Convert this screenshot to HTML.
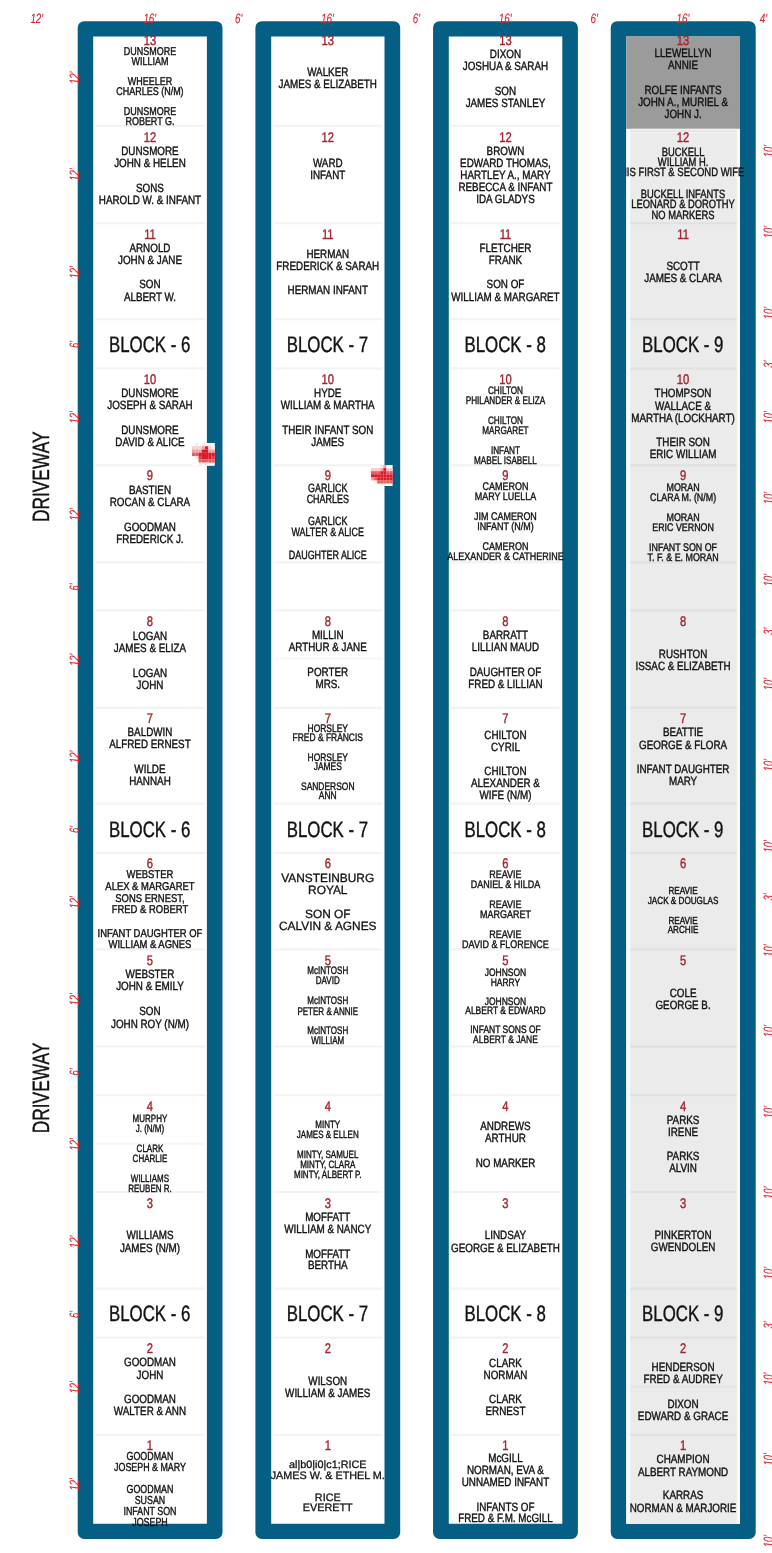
<!DOCTYPE html><html><head><meta charset="utf-8"><title>Cemetery Blocks 6-9</title><style>
html,body{margin:0;padding:0}
body{width:772px;height:1553px;position:relative;overflow:hidden;background:#fff;font-family:"Liberation Sans",sans-serif}
.o{position:absolute;background:#055e84;border-radius:9px}
.i{position:absolute;background:#fff}
.h{position:absolute;height:1px;background:#ececec}
text{font-family:"Liberation Sans",sans-serif;text-rendering:geometricPrecision;text-anchor:middle;fill:#111111;stroke:#111111;stroke-width:0.4px;white-space:pre}
text.w{stroke-width:0.3px}
text.k{fill:#a3232e;stroke:#a3232e}
text.r{fill:#d8222e;stroke:#d8222e;stroke-width:0.1px;font-style:italic}
.g{position:absolute}
</style></head><body>
<svg class="g" style="left:0;top:0" width="772" height="1553" viewBox="0 0 772 1553"><path d="M84.2,21.2 H216.0 A6.5,6.5 0 0 1 222.5,27.7 V1532.4 A6.5,6.5 0 0 1 216.0,1538.9 H84.2 A6.5,6.5 0 0 1 77.7,1532.4 V27.7 A6.5,6.5 0 0 1 84.2,21.2 Z M93.2,36.4 V1523.8 H206.9 V36.4 Z" fill="#055e84" fill-rule="evenodd"/><rect x="95.2" y="124.7" width="109.7" height="2.2" fill="#f3f3f3"/><rect x="95.2" y="222.1" width="109.7" height="2.2" fill="#f3f3f3"/><rect x="95.2" y="318.1" width="109.7" height="2.2" fill="#f3f3f3"/><rect x="95.2" y="367.3" width="109.7" height="2.2" fill="#f3f3f3"/><rect x="95.2" y="464.2" width="109.7" height="2.2" fill="#f3f3f3"/><rect x="95.2" y="561.2" width="109.7" height="2.2" fill="#f3f3f3"/><rect x="95.2" y="609.2" width="109.7" height="2.2" fill="#f3f3f3"/><rect x="95.2" y="706.7" width="109.7" height="2.2" fill="#f3f3f3"/><rect x="95.2" y="802.5" width="109.7" height="2.2" fill="#f3f3f3"/><rect x="95.2" y="851.9" width="109.7" height="2.2" fill="#f3f3f3"/><rect x="95.2" y="948.3" width="109.7" height="2.2" fill="#f3f3f3"/><rect x="95.2" y="1045.4" width="109.7" height="2.2" fill="#f3f3f3"/><rect x="95.2" y="1094.0" width="109.7" height="2.2" fill="#f3f3f3"/><rect x="95.2" y="1190.9" width="109.7" height="2.2" fill="#f3f3f3"/><rect x="95.2" y="1287.5" width="109.7" height="2.2" fill="#f3f3f3"/><rect x="95.2" y="1336.5" width="109.7" height="2.2" fill="#f3f3f3"/><rect x="95.2" y="1433.7" width="109.7" height="2.2" fill="#f3f3f3"/><path d="M261.9,21.2 H393.7 A6.5,6.5 0 0 1 400.2,27.7 V1532.4 A6.5,6.5 0 0 1 393.7,1538.9 H261.9 A6.5,6.5 0 0 1 255.4,1532.4 V27.7 A6.5,6.5 0 0 1 261.9,21.2 Z M271.2,36.4 V1523.8 H384.5 V36.4 Z" fill="#055e84" fill-rule="evenodd"/><rect x="273.2" y="124.7" width="109.3" height="2.2" fill="#f3f3f3"/><rect x="273.2" y="222.1" width="109.3" height="2.2" fill="#f3f3f3"/><rect x="273.2" y="318.1" width="109.3" height="2.2" fill="#f3f3f3"/><rect x="273.2" y="367.3" width="109.3" height="2.2" fill="#f3f3f3"/><rect x="273.2" y="464.2" width="109.3" height="2.2" fill="#f3f3f3"/><rect x="273.2" y="561.2" width="109.3" height="2.2" fill="#f3f3f3"/><rect x="273.2" y="609.2" width="109.3" height="2.2" fill="#f3f3f3"/><rect x="273.2" y="706.7" width="109.3" height="2.2" fill="#f3f3f3"/><rect x="273.2" y="802.5" width="109.3" height="2.2" fill="#f3f3f3"/><rect x="273.2" y="851.9" width="109.3" height="2.2" fill="#f3f3f3"/><rect x="273.2" y="948.3" width="109.3" height="2.2" fill="#f3f3f3"/><rect x="273.2" y="1045.4" width="109.3" height="2.2" fill="#f3f3f3"/><rect x="273.2" y="1094.0" width="109.3" height="2.2" fill="#f3f3f3"/><rect x="273.2" y="1190.9" width="109.3" height="2.2" fill="#f3f3f3"/><rect x="273.2" y="1287.5" width="109.3" height="2.2" fill="#f3f3f3"/><rect x="273.2" y="1336.5" width="109.3" height="2.2" fill="#f3f3f3"/><rect x="273.2" y="1433.7" width="109.3" height="2.2" fill="#f3f3f3"/><path d="M439.55,21.2 H571.4 A6.5,6.5 0 0 1 577.9,27.7 V1532.4 A6.5,6.5 0 0 1 571.4,1538.9 H439.55 A6.5,6.5 0 0 1 433.05,1532.4 V27.7 A6.5,6.5 0 0 1 439.55,21.2 Z M448.8,36.4 V1523.8 H562.3 V36.4 Z" fill="#055e84" fill-rule="evenodd"/><rect x="450.8" y="124.7" width="109.5" height="2.2" fill="#f3f3f3"/><rect x="450.8" y="222.1" width="109.5" height="2.2" fill="#f3f3f3"/><rect x="450.8" y="318.1" width="109.5" height="2.2" fill="#f3f3f3"/><rect x="450.8" y="367.3" width="109.5" height="2.2" fill="#f3f3f3"/><rect x="450.8" y="464.2" width="109.5" height="2.2" fill="#f3f3f3"/><rect x="450.8" y="561.2" width="109.5" height="2.2" fill="#f3f3f3"/><rect x="450.8" y="609.2" width="109.5" height="2.2" fill="#f3f3f3"/><rect x="450.8" y="706.7" width="109.5" height="2.2" fill="#f3f3f3"/><rect x="450.8" y="802.5" width="109.5" height="2.2" fill="#f3f3f3"/><rect x="450.8" y="851.9" width="109.5" height="2.2" fill="#f3f3f3"/><rect x="450.8" y="948.3" width="109.5" height="2.2" fill="#f3f3f3"/><rect x="450.8" y="1045.4" width="109.5" height="2.2" fill="#f3f3f3"/><rect x="450.8" y="1094.0" width="109.5" height="2.2" fill="#f3f3f3"/><rect x="450.8" y="1190.9" width="109.5" height="2.2" fill="#f3f3f3"/><rect x="450.8" y="1287.5" width="109.5" height="2.2" fill="#f3f3f3"/><rect x="450.8" y="1336.5" width="109.5" height="2.2" fill="#f3f3f3"/><rect x="450.8" y="1433.7" width="109.5" height="2.2" fill="#f3f3f3"/><path d="M617.25,21.2 H749.2 A6.5,6.5 0 0 1 755.7,27.7 V1532.4 A6.5,6.5 0 0 1 749.2,1538.9 H617.25 A6.5,6.5 0 0 1 610.75,1532.4 V27.7 A6.5,6.5 0 0 1 617.25,21.2 Z M626.3,36.4 V1523.8 H740.0 V36.4 Z" fill="#055e84" fill-rule="evenodd"/><rect x="626.3" y="36.4" width="113.7" height="92.5" fill="#9b9b9b"/><rect x="626.3" y="128.9" width="113.7" height="1394.9" fill="#fafafa"/><rect x="630.2" y="128.9" width="106.6" height="1394.9" fill="#ebebeb"/><rect x="630.2" y="128.9" width="106.6" height="1.6" fill="#f1f1f1"/><rect x="630.2" y="130.5" width="106.6" height="1.5" fill="#e5e5e5"/><rect x="630.2" y="132" width="106.6" height="1.5" fill="#f2f2f2"/><rect x="630.2" y="222.1" width="106.6" height="2.2" fill="#e1e1e1"/><rect x="630.2" y="318.1" width="106.6" height="2.2" fill="#e1e1e1"/><rect x="630.2" y="367.3" width="106.6" height="2.2" fill="#e1e1e1"/><rect x="630.2" y="464.2" width="106.6" height="2.2" fill="#e1e1e1"/><rect x="630.2" y="561.2" width="106.6" height="2.2" fill="#e1e1e1"/><rect x="630.2" y="609.2" width="106.6" height="2.2" fill="#e1e1e1"/><rect x="630.2" y="706.7" width="106.6" height="2.2" fill="#e1e1e1"/><rect x="630.2" y="802.5" width="106.6" height="2.2" fill="#e1e1e1"/><rect x="630.2" y="851.9" width="106.6" height="2.2" fill="#e1e1e1"/><rect x="630.2" y="948.3" width="106.6" height="2.2" fill="#e1e1e1"/><rect x="630.2" y="1045.4" width="106.6" height="2.2" fill="#e1e1e1"/><rect x="630.2" y="1094.0" width="106.6" height="2.2" fill="#e1e1e1"/><rect x="630.2" y="1190.9" width="106.6" height="2.2" fill="#e1e1e1"/><rect x="630.2" y="1287.5" width="106.6" height="2.2" fill="#e1e1e1"/><rect x="630.2" y="1336.5" width="106.6" height="2.2" fill="#e1e1e1"/><rect x="630.2" y="1433.7" width="106.6" height="2.2" fill="#e1e1e1"/><rect x="273.2" y="657.7" width="109.3" height="2" fill="#f5f5f5"/><rect x="95.2" y="1142.8" width="109.7" height="2" fill="#f5f5f5"/><rect x="630.2" y="1385.7" width="106.6" height="2" fill="#e4e4e4"/></svg>
<svg class="g" style="left:192.2px;top:443.2px" width="22.8" height="22.8" viewBox="0 0 22.8 22.8"><rect width="22.8" height="22.8" fill="#fff"/><rect x="3.26" y="0.00" width="3.31" height="3.31" fill="#fde9ea"/><rect x="9.77" y="0.00" width="3.31" height="3.31" fill="#fde9ea"/><rect x="16.29" y="0.00" width="3.31" height="3.31" fill="#fde9ea"/><rect x="0.00" y="3.26" width="3.31" height="3.31" fill="#f9cdd0"/><rect x="3.26" y="3.26" width="3.31" height="3.31" fill="#f9cdd0"/><rect x="6.51" y="3.26" width="3.31" height="3.31" fill="#f9cdd0"/><rect x="9.77" y="3.26" width="3.31" height="3.31" fill="#f2a0a6"/><rect x="13.03" y="3.26" width="3.31" height="3.31" fill="#da1a28"/><rect x="16.29" y="3.26" width="3.31" height="3.31" fill="#f9cdd0"/><rect x="19.54" y="3.26" width="3.31" height="3.31" fill="#fde9ea"/><rect x="0.00" y="6.51" width="3.31" height="3.31" fill="#f2a0a6"/><rect x="3.26" y="6.51" width="3.31" height="3.31" fill="#f2a0a6"/><rect x="6.51" y="6.51" width="3.31" height="3.31" fill="#f2a0a6"/><rect x="9.77" y="6.51" width="3.31" height="3.31" fill="#da1a28"/><rect x="13.03" y="6.51" width="3.31" height="3.31" fill="#da1a28"/><rect x="16.29" y="6.51" width="3.31" height="3.31" fill="#f2a0a6"/><rect x="19.54" y="6.51" width="3.31" height="3.31" fill="#f2a0a6"/><rect x="0.00" y="9.77" width="3.31" height="3.31" fill="#e85a64"/><rect x="3.26" y="9.77" width="3.31" height="3.31" fill="#e85a64"/><rect x="6.51" y="9.77" width="3.31" height="3.31" fill="#da1a28"/><rect x="9.77" y="9.77" width="3.31" height="3.31" fill="#da1a28"/><rect x="13.03" y="9.77" width="3.31" height="3.31" fill="#da1a28"/><rect x="16.29" y="9.77" width="3.31" height="3.31" fill="#da1a28"/><rect x="19.54" y="9.77" width="3.31" height="3.31" fill="#da1a28"/><rect x="3.26" y="13.03" width="3.31" height="3.31" fill="#fde9ea"/><rect x="6.51" y="13.03" width="3.31" height="3.31" fill="#e03a46"/><rect x="9.77" y="13.03" width="3.31" height="3.31" fill="#da1a28"/><rect x="13.03" y="13.03" width="3.31" height="3.31" fill="#da1a28"/><rect x="16.29" y="13.03" width="3.31" height="3.31" fill="#da1a28"/><rect x="19.54" y="13.03" width="3.31" height="3.31" fill="#e03a46"/><rect x="6.51" y="16.29" width="3.31" height="3.31" fill="#e85a64"/><rect x="9.77" y="16.29" width="3.31" height="3.31" fill="#e85a64"/><rect x="13.03" y="16.29" width="3.31" height="3.31" fill="#e85a64"/><rect x="16.29" y="16.29" width="3.31" height="3.31" fill="#e85a64"/><rect x="19.54" y="16.29" width="3.31" height="3.31" fill="#e85a64"/><rect x="6.51" y="19.54" width="3.31" height="3.31" fill="#fde9ea"/><rect x="13.03" y="19.54" width="3.31" height="3.31" fill="#fde9ea"/></svg>
<svg class="g" style="left:371.0px;top:464.7px" width="21.6" height="21.6" viewBox="0 0 21.6 21.6"><rect width="21.6" height="21.6" fill="#fff"/><rect x="9.26" y="0.00" width="3.14" height="3.14" fill="#fde9ea"/><rect x="12.34" y="0.00" width="3.14" height="3.14" fill="#f2a0a6"/><rect x="0.00" y="3.09" width="3.14" height="3.14" fill="#f9cdd0"/><rect x="3.09" y="3.09" width="3.14" height="3.14" fill="#f9cdd0"/><rect x="6.17" y="3.09" width="3.14" height="3.14" fill="#f9cdd0"/><rect x="9.26" y="3.09" width="3.14" height="3.14" fill="#f2a0a6"/><rect x="12.34" y="3.09" width="3.14" height="3.14" fill="#da1a28"/><rect x="15.43" y="3.09" width="3.14" height="3.14" fill="#f9cdd0"/><rect x="18.51" y="3.09" width="3.14" height="3.14" fill="#f9cdd0"/><rect x="0.00" y="6.17" width="3.14" height="3.14" fill="#e85a64"/><rect x="3.09" y="6.17" width="3.14" height="3.14" fill="#e85a64"/><rect x="6.17" y="6.17" width="3.14" height="3.14" fill="#e85a64"/><rect x="9.26" y="6.17" width="3.14" height="3.14" fill="#da1a28"/><rect x="12.34" y="6.17" width="3.14" height="3.14" fill="#da1a28"/><rect x="15.43" y="6.17" width="3.14" height="3.14" fill="#e85a64"/><rect x="18.51" y="6.17" width="3.14" height="3.14" fill="#e85a64"/><rect x="0.00" y="9.26" width="3.14" height="3.14" fill="#da1a28"/><rect x="3.09" y="9.26" width="3.14" height="3.14" fill="#da1a28"/><rect x="6.17" y="9.26" width="3.14" height="3.14" fill="#da1a28"/><rect x="9.26" y="9.26" width="3.14" height="3.14" fill="#da1a28"/><rect x="12.34" y="9.26" width="3.14" height="3.14" fill="#da1a28"/><rect x="15.43" y="9.26" width="3.14" height="3.14" fill="#da1a28"/><rect x="18.51" y="9.26" width="3.14" height="3.14" fill="#da1a28"/><rect x="0.00" y="12.34" width="3.14" height="3.14" fill="#f2a0a6"/><rect x="3.09" y="12.34" width="3.14" height="3.14" fill="#e85a64"/><rect x="6.17" y="12.34" width="3.14" height="3.14" fill="#da1a28"/><rect x="9.26" y="12.34" width="3.14" height="3.14" fill="#da1a28"/><rect x="12.34" y="12.34" width="3.14" height="3.14" fill="#da1a28"/><rect x="15.43" y="12.34" width="3.14" height="3.14" fill="#da1a28"/><rect x="18.51" y="12.34" width="3.14" height="3.14" fill="#da1a28"/><rect x="3.09" y="15.43" width="3.14" height="3.14" fill="#fde9ea"/><rect x="6.17" y="15.43" width="3.14" height="3.14" fill="#e8604e"/><rect x="9.26" y="15.43" width="3.14" height="3.14" fill="#e8604e"/><rect x="12.34" y="15.43" width="3.14" height="3.14" fill="#e8604e"/><rect x="15.43" y="15.43" width="3.14" height="3.14" fill="#e8604e"/><rect x="18.51" y="15.43" width="3.14" height="3.14" fill="#e8604e"/></svg>
<svg class="g" style="left:0;top:0;will-change:transform" width="772" height="1553" viewBox="0 0 772 1553"><text class="n" transform="translate(149.95,55.04) scale(0.794,1)" font-size="11.3">DUNSMORE</text>
<text class="n" transform="translate(149.95,65.29) scale(0.794,1)" font-size="11.3">WILLIAM</text>
<text class="n" transform="translate(149.95,84.94) scale(0.794,1)" font-size="11.3">WHEELER</text>
<text class="n" transform="translate(149.95,94.79) scale(0.794,1)" font-size="11.3">CHARLES (N/M)</text>
<text class="n" transform="translate(149.95,115.14) scale(0.794,1)" font-size="11.3">DUNSMORE</text>
<text class="n" transform="translate(149.95,124.99) scale(0.794,1)" font-size="11.3">ROBERT G.</text>
<text class="n" transform="translate(149.95,155.43) scale(0.82,1)" font-size="12">DUNSMORE</text>
<text class="n" transform="translate(149.95,167.43) scale(0.82,1)" font-size="12">JOHN &amp; HELEN</text>
<text class="n" transform="translate(149.95,191.83) scale(0.82,1)" font-size="12">SONS</text>
<text class="n" transform="translate(149.95,203.93) scale(0.82,1)" font-size="12">HAROLD W. &amp; INFANT</text>
<text class="n" transform="translate(149.95,252.03) scale(0.82,1)" font-size="12">ARNOLD</text>
<text class="n" transform="translate(149.95,264.03) scale(0.82,1)" font-size="12">JOHN &amp; JANE</text>
<text class="n" transform="translate(149.95,288.43) scale(0.82,1)" font-size="12">SON</text>
<text class="n" transform="translate(149.95,300.53) scale(0.82,1)" font-size="12">ALBERT W.</text>
<text class="n" transform="translate(149.95,397.43) scale(0.82,1)" font-size="12">DUNSMORE</text>
<text class="n" transform="translate(149.95,409.43) scale(0.82,1)" font-size="12">JOSEPH &amp; SARAH</text>
<text class="n" transform="translate(149.95,433.83) scale(0.82,1)" font-size="12">DUNSMORE</text>
<text class="n" transform="translate(149.95,445.93) scale(0.82,1)" font-size="12">DAVID &amp; ALICE</text>
<text class="n" transform="translate(149.95,494.33) scale(0.82,1)" font-size="12">BASTIEN</text>
<text class="n" transform="translate(149.95,506.33) scale(0.82,1)" font-size="12">ROCAN &amp; CLARA</text>
<text class="n" transform="translate(149.95,530.83) scale(0.82,1)" font-size="12">GOODMAN</text>
<text class="n" transform="translate(149.95,542.63) scale(0.82,1)" font-size="12">FREDERICK J.</text>
<text class="n" transform="translate(149.95,639.73) scale(0.82,1)" font-size="12">LOGAN</text>
<text class="n" transform="translate(149.95,651.83) scale(0.82,1)" font-size="12">JAMES &amp; ELIZA</text>
<text class="n" transform="translate(149.95,676.63) scale(0.82,1)" font-size="12">LOGAN</text>
<text class="n" transform="translate(149.95,688.73) scale(0.82,1)" font-size="12">JOHN</text>
<text class="n" transform="translate(149.95,736.13) scale(0.82,1)" font-size="12">BALDWIN</text>
<text class="n" transform="translate(149.95,748.13) scale(0.82,1)" font-size="12">ALFRED ERNEST</text>
<text class="n" transform="translate(149.95,773.03) scale(0.82,1)" font-size="12">WILDE</text>
<text class="n" transform="translate(149.95,784.53) scale(0.82,1)" font-size="12">HANNAH</text>
<text class="n" transform="translate(149.95,877.94) scale(0.836,1)" font-size="11.3">WEBSTER</text>
<text class="n" transform="translate(149.95,889.69) scale(0.836,1)" font-size="11.3">ALEX &amp; MARGARET</text>
<text class="n" transform="translate(149.95,901.59) scale(0.836,1)" font-size="11.3">SONS ERNEST,</text>
<text class="n" transform="translate(149.95,913.09) scale(0.836,1)" font-size="11.3">FRED &amp; ROBERT</text>
<text class="n" transform="translate(149.95,936.99) scale(0.836,1)" font-size="11.3">INFANT DAUGHTER OF</text>
<text class="n" transform="translate(149.95,948.39) scale(0.836,1)" font-size="11.3">WILLIAM &amp; AGNES</text>
<text class="n" transform="translate(149.95,978.43) scale(0.82,1)" font-size="12">WEBSTER</text>
<text class="n" transform="translate(149.95,990.23) scale(0.82,1)" font-size="12">JOHN &amp; EMILY</text>
<text class="n" transform="translate(149.95,1015.23) scale(0.82,1)" font-size="12">SON</text>
<text class="n" transform="translate(149.95,1027.73) scale(0.82,1)" font-size="12">JOHN ROY (N/M)</text>
<text class="n" transform="translate(149.95,1121.85) scale(0.755,1)" font-size="10.6">MURPHY</text>
<text class="n" transform="translate(149.95,1132.35) scale(0.755,1)" font-size="10.6">J. (N/M)</text>
<text class="n" transform="translate(149.95,1152.05) scale(0.755,1)" font-size="10.6">CLARK</text>
<text class="n" transform="translate(149.95,1162.05) scale(0.755,1)" font-size="10.6">CHARLIE</text>
<text class="n" transform="translate(149.95,1182.15) scale(0.755,1)" font-size="10.6">WILLIAMS</text>
<text class="n" transform="translate(149.95,1191.95) scale(0.755,1)" font-size="10.6">REUBEN R.</text>
<text class="n" transform="translate(149.95,1239.43) scale(0.82,1)" font-size="12">WILLIAMS</text>
<text class="n" transform="translate(149.95,1251.83) scale(0.82,1)" font-size="12">JAMES (N/M)</text>
<text class="n" transform="translate(149.95,1366.43) scale(0.82,1)" font-size="12">GOODMAN</text>
<text class="n" transform="translate(149.95,1378.63) scale(0.82,1)" font-size="12">JOHN</text>
<text class="n" transform="translate(149.95,1403.23) scale(0.82,1)" font-size="12">GOODMAN</text>
<text class="n" transform="translate(149.95,1415.23) scale(0.82,1)" font-size="12">WALTER &amp; ANN</text>
<text class="n" transform="translate(149.95,1459.82) scale(0.759,1)" font-size="11.7">GOODMAN</text>
<text class="n" transform="translate(149.95,1470.72) scale(0.759,1)" font-size="11.7">JOSEPH &amp; MARY</text>
<text class="n" transform="translate(149.95,1493.12) scale(0.759,1)" font-size="11.7">GOODMAN</text>
<text class="n" transform="translate(149.95,1504.22) scale(0.759,1)" font-size="11.7">SUSAN</text>
<text class="n" transform="translate(149.95,1515.32) scale(0.759,1)" font-size="11.7">INFANT SON</text>
<text class="n" transform="translate(149.95,1526.42) scale(0.759,1)" font-size="11.7">JOSEPH</text>
<text class="k" transform="translate(149.95,45.22) scale(0.8,1)" font-size="14">13</text>
<text class="k" transform="translate(149.95,141.92) scale(0.8,1)" font-size="14">12</text>
<text class="k" transform="translate(149.95,238.52) scale(0.8,1)" font-size="14">11</text>
<text class="k" transform="translate(149.95,383.92) scale(0.8,1)" font-size="14">10</text>
<text class="k" transform="translate(149.95,480.42) scale(0.8,1)" font-size="14">9</text>
<text class="k" transform="translate(149.95,626.12) scale(0.8,1)" font-size="14">8</text>
<text class="k" transform="translate(149.95,722.82) scale(0.8,1)" font-size="14">7</text>
<text class="k" transform="translate(149.95,868.12) scale(0.8,1)" font-size="14">6</text>
<text class="k" transform="translate(149.95,965.32) scale(0.8,1)" font-size="14">5</text>
<text class="k" transform="translate(149.95,1111.22) scale(0.8,1)" font-size="14">4</text>
<text class="k" transform="translate(149.95,1207.62) scale(0.8,1)" font-size="14">3</text>
<text class="k" transform="translate(149.95,1353.12) scale(0.8,1)" font-size="14">2</text>
<text class="k" transform="translate(149.95,1450.12) scale(0.8,1)" font-size="14">1</text>
<text class="n" transform="translate(149.65,352.07) scale(0.755,1)" font-size="22.3">BLOCK - 6</text>
<text class="n" transform="translate(149.65,836.57) scale(0.755,1)" font-size="22.3">BLOCK - 6</text>
<text class="n" transform="translate(149.65,1321.17) scale(0.755,1)" font-size="22.3">BLOCK - 6</text>
<text class="n" transform="translate(327.75,75.63) scale(0.82,1)" font-size="12">WALKER</text>
<text class="n" transform="translate(327.75,88.03) scale(0.82,1)" font-size="12">JAMES &amp; ELIZABETH</text>
<text class="n" transform="translate(327.75,166.73) scale(0.82,1)" font-size="12">WARD</text>
<text class="n" transform="translate(327.75,178.63) scale(0.82,1)" font-size="12">INFANT</text>
<text class="n" transform="translate(327.75,257.93) scale(0.82,1)" font-size="12">HERMAN</text>
<text class="n" transform="translate(327.75,269.93) scale(0.82,1)" font-size="12">FREDERICK &amp; SARAH</text>
<text class="n" transform="translate(327.75,294.13) scale(0.82,1)" font-size="12">HERMAN INFANT</text>
<text class="n" transform="translate(327.75,397.03) scale(0.82,1)" font-size="12">HYDE</text>
<text class="n" transform="translate(327.75,409.43) scale(0.82,1)" font-size="12">WILLIAM &amp; MARTHA</text>
<text class="n" transform="translate(327.75,433.83) scale(0.82,1)" font-size="12">THEIR INFANT SON</text>
<text class="n" transform="translate(327.75,445.83) scale(0.82,1)" font-size="12">JAMES</text>
<text class="n" transform="translate(327.75,491.73) scale(0.745,1)" font-size="12.0">GARLICK</text>
<text class="n" transform="translate(327.75,502.73) scale(0.745,1)" font-size="12.0">CHARLES</text>
<text class="n" transform="translate(327.75,525.23) scale(0.745,1)" font-size="12.0">GARLICK</text>
<text class="n" transform="translate(327.75,535.93) scale(0.745,1)" font-size="12.0">WALTER &amp; ALICE</text>
<text class="n" transform="translate(327.75,558.53) scale(0.745,1)" font-size="12.0">DAUGHTER ALICE</text>
<text class="n" transform="translate(327.75,639.33) scale(0.82,1)" font-size="12">MILLIN</text>
<text class="n" transform="translate(327.75,651.43) scale(0.82,1)" font-size="12">ARTHUR &amp; JANE</text>
<text class="n" transform="translate(327.75,676.23) scale(0.82,1)" font-size="12">PORTER</text>
<text class="n" transform="translate(327.75,688.03) scale(0.82,1)" font-size="12">MRS.</text>
<text class="n" transform="translate(327.75,732.05) scale(0.775,1)" font-size="10.9">HORSLEY</text>
<text class="n" transform="translate(327.75,741.35) scale(0.775,1)" font-size="10.9">FRED &amp; FRANCIS</text>
<text class="n" transform="translate(327.75,761.05) scale(0.775,1)" font-size="10.9">HORSLEY</text>
<text class="n" transform="translate(327.75,770.25) scale(0.775,1)" font-size="10.9">JAMES</text>
<text class="n" transform="translate(327.75,789.55) scale(0.775,1)" font-size="10.9">SANDERSON</text>
<text class="n" transform="translate(327.75,798.85) scale(0.775,1)" font-size="10.9">ANN</text>
<text class="n w" transform="translate(327.75,881.93) scale(0.99,1)" font-size="12.0">VANSTEINBURG</text>
<text class="n w" transform="translate(327.75,894.03) scale(0.99,1)" font-size="12.0">ROYAL</text>
<text class="n w" transform="translate(327.75,918.33) scale(0.99,1)" font-size="12.0">SON OF</text>
<text class="n w" transform="translate(327.75,930.23) scale(0.99,1)" font-size="12.0">CALVIN &amp; AGNES</text>
<text class="n" transform="translate(327.75,974.35) scale(0.738,1)" font-size="10.9">McINTOSH</text>
<text class="n" transform="translate(327.75,984.15) scale(0.738,1)" font-size="10.9">DAVID</text>
<text class="n" transform="translate(327.75,1003.95) scale(0.738,1)" font-size="10.9">McINTOSH</text>
<text class="n" transform="translate(327.75,1014.55) scale(0.738,1)" font-size="10.9">PETER &amp; ANNIE</text>
<text class="n" transform="translate(327.75,1034.25) scale(0.738,1)" font-size="10.9">McINTOSH</text>
<text class="n" transform="translate(327.75,1044.05) scale(0.738,1)" font-size="10.9">WILLIAM</text>
<text class="n" transform="translate(327.75,1127.60) scale(0.757,1)" font-size="10.6">MINTY</text>
<text class="n" transform="translate(327.75,1137.65) scale(0.757,1)" font-size="10.6">JAMES &amp; ELLEN</text>
<text class="n" transform="translate(327.75,1157.95) scale(0.757,1)" font-size="10.6">MINTY, SAMUEL</text>
<text class="n" transform="translate(327.75,1167.70) scale(0.757,1)" font-size="10.6">MINTY, CLARA</text>
<text class="n" transform="translate(327.75,1177.65) scale(0.757,1)" font-size="10.6">MINTY, ALBERT P.</text>
<text class="n" transform="translate(327.75,1221.13) scale(0.82,1)" font-size="12">MOFFATT</text>
<text class="n" transform="translate(327.75,1233.13) scale(0.82,1)" font-size="12">WILLIAM &amp; NANCY</text>
<text class="n" transform="translate(327.75,1257.63) scale(0.82,1)" font-size="12">MOFFATT</text>
<text class="n" transform="translate(327.75,1269.43) scale(0.82,1)" font-size="12">BERTHA</text>
<text class="n" transform="translate(327.75,1384.63) scale(0.82,1)" font-size="12">WILSON</text>
<text class="n" transform="translate(327.75,1397.03) scale(0.82,1)" font-size="12">WILLIAM &amp; JAMES</text>
<text class="n w" transform="translate(327.75,1467.92) scale(1.0,1)" font-size="10.8">al|b0|i0|c1;RICE</text>
<text class="n w" transform="translate(327.75,1478.82) scale(1.0,1)" font-size="10.8">JAMES W. &amp; ETHEL M.</text>
<text class="n w" transform="translate(327.75,1500.72) scale(1.0,1)" font-size="10.8">RICE</text>
<text class="n w" transform="translate(327.75,1511.42) scale(1.0,1)" font-size="10.8">EVERETT</text>
<text class="k" transform="translate(327.75,45.22) scale(0.8,1)" font-size="14">13</text>
<text class="k" transform="translate(327.75,141.92) scale(0.8,1)" font-size="14">12</text>
<text class="k" transform="translate(327.75,238.52) scale(0.8,1)" font-size="14">11</text>
<text class="k" transform="translate(327.75,383.92) scale(0.8,1)" font-size="14">10</text>
<text class="k" transform="translate(327.75,480.42) scale(0.8,1)" font-size="14">9</text>
<text class="k" transform="translate(327.75,626.12) scale(0.8,1)" font-size="14">8</text>
<text class="k" transform="translate(327.75,722.82) scale(0.8,1)" font-size="14">7</text>
<text class="k" transform="translate(327.75,868.12) scale(0.8,1)" font-size="14">6</text>
<text class="k" transform="translate(327.75,965.32) scale(0.8,1)" font-size="14">5</text>
<text class="k" transform="translate(327.75,1111.22) scale(0.8,1)" font-size="14">4</text>
<text class="k" transform="translate(327.75,1207.62) scale(0.8,1)" font-size="14">3</text>
<text class="k" transform="translate(327.75,1353.12) scale(0.8,1)" font-size="14">2</text>
<text class="k" transform="translate(327.75,1450.12) scale(0.8,1)" font-size="14">1</text>
<text class="n" transform="translate(327.45,352.07) scale(0.755,1)" font-size="22.3">BLOCK - 7</text>
<text class="n" transform="translate(327.45,836.57) scale(0.755,1)" font-size="22.3">BLOCK - 7</text>
<text class="n" transform="translate(327.45,1321.17) scale(0.755,1)" font-size="22.3">BLOCK - 7</text>
<text class="n" transform="translate(505.45,57.93) scale(0.82,1)" font-size="12">DIXON</text>
<text class="n" transform="translate(505.45,70.43) scale(0.82,1)" font-size="12">JOSHUA &amp; SARAH</text>
<text class="n" transform="translate(505.45,94.63) scale(0.82,1)" font-size="12">SON</text>
<text class="n" transform="translate(505.45,106.63) scale(0.82,1)" font-size="12">JAMES STANLEY</text>
<text class="n" transform="translate(505.45,154.93) scale(0.82,1)" font-size="12">BROWN</text>
<text class="n" transform="translate(505.45,166.83) scale(0.82,1)" font-size="12">EDWARD THOMAS,</text>
<text class="n" transform="translate(505.45,179.13) scale(0.82,1)" font-size="12">HARTLEY A., MARY</text>
<text class="n" transform="translate(505.45,191.23) scale(0.82,1)" font-size="12">REBECCA &amp; INFANT</text>
<text class="n" transform="translate(505.45,203.43) scale(0.82,1)" font-size="12">IDA GLADYS</text>
<text class="n" transform="translate(505.45,252.03) scale(0.82,1)" font-size="12">FLETCHER</text>
<text class="n" transform="translate(505.45,264.03) scale(0.82,1)" font-size="12">FRANK</text>
<text class="n" transform="translate(505.45,288.43) scale(0.82,1)" font-size="12">SON OF</text>
<text class="n" transform="translate(505.45,300.53) scale(0.82,1)" font-size="12">WILLIAM &amp; MARGARET</text>
<text class="n" transform="translate(505.45,394.05) scale(0.75,1)" font-size="10.9">CHILTON</text>
<text class="n" transform="translate(505.45,404.15) scale(0.75,1)" font-size="10.9">PHILANDER &amp; ELIZA</text>
<text class="n" transform="translate(505.45,424.05) scale(0.75,1)" font-size="10.9">CHILTON</text>
<text class="n" transform="translate(505.45,433.95) scale(0.75,1)" font-size="10.9">MARGARET</text>
<text class="n" transform="translate(505.45,454.05) scale(0.75,1)" font-size="10.9">INFANT</text>
<text class="n" transform="translate(505.45,464.05) scale(0.75,1)" font-size="10.9">MABEL ISABELL</text>
<text class="n" transform="translate(505.45,489.82) scale(0.808,1)" font-size="11.1">CAMERON</text>
<text class="n" transform="translate(505.45,499.92) scale(0.808,1)" font-size="11.1">MARY LUELLA</text>
<text class="n" transform="translate(505.45,519.92) scale(0.808,1)" font-size="11.1">JIM CAMERON</text>
<text class="n" transform="translate(505.45,530.02) scale(0.808,1)" font-size="11.1">INFANT (N/M)</text>
<text class="n" transform="translate(505.45,550.12) scale(0.808,1)" font-size="11.1">CAMERON</text>
<text class="n" transform="translate(505.45,560.02) scale(0.808,1)" font-size="11.1">ALEXANDER &amp; CATHERINE</text>
<text class="n" transform="translate(505.45,639.33) scale(0.82,1)" font-size="12">BARRATT</text>
<text class="n" transform="translate(505.45,651.43) scale(0.82,1)" font-size="12">LILLIAN MAUD</text>
<text class="n" transform="translate(505.45,676.23) scale(0.82,1)" font-size="12">DAUGHTER OF</text>
<text class="n" transform="translate(505.45,688.03) scale(0.82,1)" font-size="12">FRED &amp; LILLIAN</text>
<text class="n" transform="translate(505.45,738.83) scale(0.82,1)" font-size="12">CHILTON</text>
<text class="n" transform="translate(505.45,750.83) scale(0.82,1)" font-size="12">CYRIL</text>
<text class="n" transform="translate(505.45,775.13) scale(0.82,1)" font-size="12">CHILTON</text>
<text class="n" transform="translate(505.45,787.13) scale(0.82,1)" font-size="12">ALEXANDER &amp;</text>
<text class="n" transform="translate(505.45,798.93) scale(0.82,1)" font-size="12">WIFE (N/M)</text>
<text class="n" transform="translate(505.45,877.72) scale(0.81,1)" font-size="11.1">REAVIE</text>
<text class="n" transform="translate(505.45,887.82) scale(0.81,1)" font-size="11.1">DANIEL &amp; HILDA</text>
<text class="n" transform="translate(505.45,907.82) scale(0.81,1)" font-size="11.1">REAVIE</text>
<text class="n" transform="translate(505.45,917.87) scale(0.81,1)" font-size="11.1">MARGARET</text>
<text class="n" transform="translate(505.45,938.02) scale(0.81,1)" font-size="11.1">REAVIE</text>
<text class="n" transform="translate(505.45,948.02) scale(0.81,1)" font-size="11.1">DAVID &amp; FLORENCE</text>
<text class="n" transform="translate(505.45,976.12) scale(0.785,1)" font-size="10.8">JOHNSON</text>
<text class="n" transform="translate(505.45,985.52) scale(0.785,1)" font-size="10.8">HARRY</text>
<text class="n" transform="translate(505.45,1004.82) scale(0.785,1)" font-size="10.8">JOHNSON</text>
<text class="n" transform="translate(505.45,1014.32) scale(0.785,1)" font-size="10.8">ALBERT &amp; EDWARD</text>
<text class="n" transform="translate(505.45,1033.32) scale(0.785,1)" font-size="10.8">INFANT SONS OF</text>
<text class="n" transform="translate(505.45,1042.82) scale(0.785,1)" font-size="10.8">ALBERT &amp; JANE</text>
<text class="n" transform="translate(505.45,1130.33) scale(0.82,1)" font-size="12">ANDREWS</text>
<text class="n" transform="translate(505.45,1142.33) scale(0.82,1)" font-size="12">ARTHUR</text>
<text class="n" transform="translate(505.45,1166.73) scale(0.82,1)" font-size="12">NO MARKER</text>
<text class="n" transform="translate(505.45,1239.43) scale(0.82,1)" font-size="12">LINDSAY</text>
<text class="n" transform="translate(505.45,1251.83) scale(0.82,1)" font-size="12">GEORGE &amp; ELIZABETH</text>
<text class="n" transform="translate(505.45,1366.53) scale(0.82,1)" font-size="12">CLARK</text>
<text class="n" transform="translate(505.45,1378.63) scale(0.82,1)" font-size="12">NORMAN</text>
<text class="n" transform="translate(505.45,1403.23) scale(0.82,1)" font-size="12">CLARK</text>
<text class="n" transform="translate(505.45,1415.23) scale(0.82,1)" font-size="12">ERNEST</text>
<text class="n" transform="translate(505.45,1461.93) scale(0.82,1)" font-size="12">McGILL</text>
<text class="n" transform="translate(505.45,1473.93) scale(0.82,1)" font-size="12">NORMAN, EVA &amp;</text>
<text class="n" transform="translate(505.45,1486.13) scale(0.82,1)" font-size="12">UNNAMED INFANT</text>
<text class="n" transform="translate(505.45,1510.63) scale(0.82,1)" font-size="12">INFANTS OF</text>
<text class="n" transform="translate(505.45,1522.43) scale(0.82,1)" font-size="12">FRED &amp; F.M. McGILL</text>
<text class="k" transform="translate(505.45,45.22) scale(0.8,1)" font-size="14">13</text>
<text class="k" transform="translate(505.45,141.92) scale(0.8,1)" font-size="14">12</text>
<text class="k" transform="translate(505.45,238.52) scale(0.8,1)" font-size="14">11</text>
<text class="k" transform="translate(505.45,383.92) scale(0.8,1)" font-size="14">10</text>
<text class="k" transform="translate(505.45,480.42) scale(0.8,1)" font-size="14">9</text>
<text class="k" transform="translate(505.45,626.12) scale(0.8,1)" font-size="14">8</text>
<text class="k" transform="translate(505.45,722.82) scale(0.8,1)" font-size="14">7</text>
<text class="k" transform="translate(505.45,868.12) scale(0.8,1)" font-size="14">6</text>
<text class="k" transform="translate(505.45,965.32) scale(0.8,1)" font-size="14">5</text>
<text class="k" transform="translate(505.45,1111.22) scale(0.8,1)" font-size="14">4</text>
<text class="k" transform="translate(505.45,1207.62) scale(0.8,1)" font-size="14">3</text>
<text class="k" transform="translate(505.45,1353.12) scale(0.8,1)" font-size="14">2</text>
<text class="k" transform="translate(505.45,1450.12) scale(0.8,1)" font-size="14">1</text>
<text class="n" transform="translate(505.15,352.07) scale(0.755,1)" font-size="22.3">BLOCK - 8</text>
<text class="n" transform="translate(505.15,836.57) scale(0.755,1)" font-size="22.3">BLOCK - 8</text>
<text class="n" transform="translate(505.15,1321.17) scale(0.755,1)" font-size="22.3">BLOCK - 8</text>
<text class="n" transform="translate(683.05,57.43) scale(0.82,1)" font-size="12">LLEWELLYN</text>
<text class="n" transform="translate(683.05,69.43) scale(0.82,1)" font-size="12">ANNIE</text>
<text class="n" transform="translate(683.05,93.83) scale(0.82,1)" font-size="12">ROLFE INFANTS</text>
<text class="n" transform="translate(683.05,106.43) scale(0.82,1)" font-size="12">JOHN A., MURIEL &amp;</text>
<text class="n" transform="translate(683.05,118.43) scale(0.82,1)" font-size="12">JOHN J.</text>
<text class="n" transform="translate(683.05,155.53) scale(0.78,1)" font-size="12.0">BUCKELL</text>
<text class="n" transform="translate(683.05,166.03) scale(0.78,1)" font-size="12.0">WILLIAM H.</text>
<clipPath id="hc"><rect x="625.6" y="160" width="150" height="30"/></clipPath>
<g clip-path="url(#hc)"><text class="n" style="text-anchor:end" transform="translate(744.4,176.43) scale(0.792,1)" font-size="12.0">HIS FIRST &amp; SECOND WIFE</text></g>
<text class="n" transform="translate(683.05,197.93) scale(0.78,1)" font-size="12.0">BUCKELL INFANTS</text>
<text class="n" transform="translate(683.05,208.33) scale(0.78,1)" font-size="12.0">LEONARD &amp; DOROTHY</text>
<text class="n" transform="translate(683.05,219.03) scale(0.78,1)" font-size="12.0">NO MARKERS</text>
<text class="n" transform="translate(683.05,269.73) scale(0.82,1)" font-size="12">SCOTT</text>
<text class="n" transform="translate(683.05,282.13) scale(0.82,1)" font-size="12">JAMES &amp; CLARA</text>
<text class="n" transform="translate(683.05,397.23) scale(0.82,1)" font-size="12">THOMPSON</text>
<text class="n" transform="translate(683.05,409.63) scale(0.82,1)" font-size="12">WALLACE &amp;</text>
<text class="n" transform="translate(683.05,421.63) scale(0.82,1)" font-size="12">MARTHA (LOCKHART)</text>
<text class="n" transform="translate(683.05,446.03) scale(0.82,1)" font-size="12">THEIR SON</text>
<text class="n" transform="translate(683.05,458.23) scale(0.82,1)" font-size="12">ERIC WILLIAM</text>
<text class="n" transform="translate(683.05,490.72) scale(0.8,1)" font-size="11.1">MORAN</text>
<text class="n" transform="translate(683.05,501.22) scale(0.8,1)" font-size="11.1">CLARA M. (N/M)</text>
<text class="n" transform="translate(683.05,521.12) scale(0.8,1)" font-size="11.1">MORAN</text>
<text class="n" transform="translate(683.05,531.17) scale(0.8,1)" font-size="11.1">ERIC VERNON</text>
<text class="n" transform="translate(683.05,551.32) scale(0.8,1)" font-size="11.1">INFANT SON OF</text>
<text class="n" transform="translate(683.05,561.12) scale(0.8,1)" font-size="11.1">T. F. &amp; E. MORAN</text>
<text class="n" transform="translate(683.05,657.63) scale(0.82,1)" font-size="12">RUSHTON</text>
<text class="n" transform="translate(683.05,669.73) scale(0.82,1)" font-size="12">ISSAC &amp; ELIZABETH</text>
<text class="n" transform="translate(683.05,736.33) scale(0.82,1)" font-size="12">BEATTIE</text>
<text class="n" transform="translate(683.05,748.73) scale(0.82,1)" font-size="12">GEORGE &amp; FLORA</text>
<text class="n" transform="translate(683.05,773.33) scale(0.82,1)" font-size="12">INFANT DAUGHTER</text>
<text class="n" transform="translate(683.05,785.33) scale(0.82,1)" font-size="12">MARY</text>
<text class="n" transform="translate(683.05,893.74) scale(0.79,1)" font-size="10.3">REAVIE</text>
<text class="n" transform="translate(683.05,903.84) scale(0.79,1)" font-size="10.3">JACK &amp; DOUGLAS</text>
<text class="n" transform="translate(683.05,923.54) scale(0.79,1)" font-size="10.3">REAVIE</text>
<text class="n" transform="translate(683.05,933.44) scale(0.79,1)" font-size="10.3">ARCHIE</text>
<text class="n" transform="translate(683.05,996.63) scale(0.82,1)" font-size="12">COLE</text>
<text class="n" transform="translate(683.05,1009.03) scale(0.82,1)" font-size="12">GEORGE B.</text>
<text class="n" transform="translate(683.05,1123.93) scale(0.82,1)" font-size="12">PARKS</text>
<text class="n" transform="translate(683.05,1135.93) scale(0.82,1)" font-size="12">IRENE</text>
<text class="n" transform="translate(683.05,1160.33) scale(0.82,1)" font-size="12">PARKS</text>
<text class="n" transform="translate(683.05,1172.33) scale(0.82,1)" font-size="12">ALVIN</text>
<text class="n" transform="translate(683.05,1238.93) scale(0.82,1)" font-size="12">PINKERTON</text>
<text class="n" transform="translate(683.05,1251.33) scale(0.82,1)" font-size="12">GWENDOLEN</text>
<text class="n" transform="translate(683.05,1371.13) scale(0.82,1)" font-size="12">HENDERSON</text>
<text class="n" transform="translate(683.05,1383.13) scale(0.82,1)" font-size="12">FRED &amp; AUDREY</text>
<text class="n" transform="translate(683.05,1407.93) scale(0.82,1)" font-size="12">DIXON</text>
<text class="n" transform="translate(683.05,1419.73) scale(0.82,1)" font-size="12">EDWARD &amp; GRACE</text>
<text class="n" transform="translate(683.05,1463.13) scale(0.82,1)" font-size="12">CHAMPION</text>
<text class="n" transform="translate(683.05,1475.53) scale(0.82,1)" font-size="12">ALBERT RAYMOND</text>
<text class="n" transform="translate(683.05,1499.43) scale(0.82,1)" font-size="12">KARRAS</text>
<text class="n" transform="translate(683.05,1511.83) scale(0.82,1)" font-size="12">NORMAN &amp; MARJORIE</text>
<text class="k" transform="translate(683.05,45.22) scale(0.8,1)" font-size="14">13</text>
<text class="k" transform="translate(683.05,141.92) scale(0.8,1)" font-size="14">12</text>
<text class="k" transform="translate(683.05,238.52) scale(0.8,1)" font-size="14">11</text>
<text class="k" transform="translate(683.05,383.92) scale(0.8,1)" font-size="14">10</text>
<text class="k" transform="translate(683.05,480.42) scale(0.8,1)" font-size="14">9</text>
<text class="k" transform="translate(683.05,626.12) scale(0.8,1)" font-size="14">8</text>
<text class="k" transform="translate(683.05,722.82) scale(0.8,1)" font-size="14">7</text>
<text class="k" transform="translate(683.05,868.12) scale(0.8,1)" font-size="14">6</text>
<text class="k" transform="translate(683.05,965.32) scale(0.8,1)" font-size="14">5</text>
<text class="k" transform="translate(683.05,1111.22) scale(0.8,1)" font-size="14">4</text>
<text class="k" transform="translate(683.05,1207.62) scale(0.8,1)" font-size="14">3</text>
<text class="k" transform="translate(683.05,1353.12) scale(0.8,1)" font-size="14">2</text>
<text class="k" transform="translate(683.05,1450.12) scale(0.8,1)" font-size="14">1</text>
<text class="n" transform="translate(682.75,352.07) scale(0.755,1)" font-size="22.3">BLOCK - 9</text>
<text class="n" transform="translate(682.75,836.57) scale(0.755,1)" font-size="22.3">BLOCK - 9</text>
<text class="n" transform="translate(682.75,1321.17) scale(0.755,1)" font-size="22.3">BLOCK - 9</text>
<text class="r" transform="translate(36.80,22.54) scale(0.73,1)" font-size="13.5">12&#x27;</text>
<text class="r" transform="translate(149.80,22.54) scale(0.73,1)" font-size="13.5">16&#x27;</text>
<text class="r" transform="translate(238.80,22.54) scale(0.73,1)" font-size="13.5">6&#x27;</text>
<text class="r" transform="translate(327.50,22.54) scale(0.73,1)" font-size="13.5">16&#x27;</text>
<text class="r" transform="translate(416.50,22.54) scale(0.73,1)" font-size="13.5">6&#x27;</text>
<text class="r" transform="translate(505.15,22.54) scale(0.73,1)" font-size="13.5">16&#x27;</text>
<text class="r" transform="translate(594.15,22.54) scale(0.73,1)" font-size="13.5">6&#x27;</text>
<text class="r" transform="translate(682.85,22.54) scale(0.73,1)" font-size="13.5">16&#x27;</text>
<text class="r" transform="translate(763.50,22.54) scale(0.73,1)" font-size="13.5">4&#x27;</text>
<text class="r" transform="translate(79.24,77.90) rotate(-90) scale(0.7,1)" font-size="13.5">12&#x27;</text>
<text class="r" transform="translate(79.24,174.70) rotate(-90) scale(0.7,1)" font-size="13.5">12&#x27;</text>
<text class="r" transform="translate(79.24,272.40) rotate(-90) scale(0.7,1)" font-size="13.5">12&#x27;</text>
<text class="r" transform="translate(79.24,344.40) rotate(-90) scale(0.7,1)" font-size="13.5">6&#x27;</text>
<text class="r" transform="translate(79.24,417.40) rotate(-90) scale(0.7,1)" font-size="13.5">12&#x27;</text>
<text class="r" transform="translate(79.24,514.40) rotate(-90) scale(0.7,1)" font-size="13.5">12&#x27;</text>
<text class="r" transform="translate(79.24,586.90) rotate(-90) scale(0.7,1)" font-size="13.5">6&#x27;</text>
<text class="r" transform="translate(79.24,659.90) rotate(-90) scale(0.7,1)" font-size="13.5">12&#x27;</text>
<text class="r" transform="translate(79.24,756.90) rotate(-90) scale(0.7,1)" font-size="13.5">12&#x27;</text>
<text class="r" transform="translate(79.24,829.40) rotate(-90) scale(0.7,1)" font-size="13.5">6&#x27;</text>
<text class="r" transform="translate(79.24,902.40) rotate(-90) scale(0.7,1)" font-size="13.5">12&#x27;</text>
<text class="r" transform="translate(79.24,999.40) rotate(-90) scale(0.7,1)" font-size="13.5">12&#x27;</text>
<text class="r" transform="translate(79.24,1071.90) rotate(-90) scale(0.7,1)" font-size="13.5">6&#x27;</text>
<text class="r" transform="translate(79.24,1144.40) rotate(-90) scale(0.7,1)" font-size="13.5">12&#x27;</text>
<text class="r" transform="translate(79.24,1241.90) rotate(-90) scale(0.7,1)" font-size="13.5">12&#x27;</text>
<text class="r" transform="translate(79.24,1314.40) rotate(-90) scale(0.7,1)" font-size="13.5">6&#x27;</text>
<text class="r" transform="translate(79.24,1387.40) rotate(-90) scale(0.7,1)" font-size="13.5">12&#x27;</text>
<text class="r" transform="translate(79.24,1484.40) rotate(-90) scale(0.7,1)" font-size="13.5">12&#x27;</text>
<text class="r" transform="translate(773.34,151.00) rotate(-90) scale(0.7,1)" font-size="13.5">10&#x27;</text>
<text class="r" transform="translate(773.34,232.00) rotate(-90) scale(0.7,1)" font-size="13.5">10&#x27;</text>
<text class="r" transform="translate(773.34,313.00) rotate(-90) scale(0.7,1)" font-size="13.5">10&#x27;</text>
<text class="r" transform="translate(773.34,364.20) rotate(-90) scale(0.7,1)" font-size="13.5">3&#x27;</text>
<text class="r" transform="translate(773.34,417.40) rotate(-90) scale(0.7,1)" font-size="13.5">10&#x27;</text>
<text class="r" transform="translate(773.34,498.20) rotate(-90) scale(0.7,1)" font-size="13.5">10&#x27;</text>
<text class="r" transform="translate(773.34,580.00) rotate(-90) scale(0.7,1)" font-size="13.5">10&#x27;</text>
<text class="r" transform="translate(773.34,631.20) rotate(-90) scale(0.7,1)" font-size="13.5">3&#x27;</text>
<text class="r" transform="translate(773.34,684.00) rotate(-90) scale(0.7,1)" font-size="13.5">10&#x27;</text>
<text class="r" transform="translate(773.34,765.00) rotate(-90) scale(0.7,1)" font-size="13.5">10&#x27;</text>
<text class="r" transform="translate(773.34,846.40) rotate(-90) scale(0.7,1)" font-size="13.5">10&#x27;</text>
<text class="r" transform="translate(773.34,897.00) rotate(-90) scale(0.7,1)" font-size="13.5">3&#x27;</text>
<text class="r" transform="translate(773.34,950.60) rotate(-90) scale(0.7,1)" font-size="13.5">10&#x27;</text>
<text class="r" transform="translate(773.34,1031.20) rotate(-90) scale(0.7,1)" font-size="13.5">10&#x27;</text>
<text class="r" transform="translate(773.34,1112.00) rotate(-90) scale(0.7,1)" font-size="13.5">10&#x27;</text>
<text class="r" transform="translate(773.34,1192.80) rotate(-90) scale(0.7,1)" font-size="13.5">10&#x27;</text>
<text class="r" transform="translate(773.34,1273.00) rotate(-90) scale(0.7,1)" font-size="13.5">10&#x27;</text>
<text class="r" transform="translate(773.34,1325.00) rotate(-90) scale(0.7,1)" font-size="13.5">3&#x27;</text>
<text class="r" transform="translate(773.34,1378.80) rotate(-90) scale(0.7,1)" font-size="13.5">10&#x27;</text>
<text class="r" transform="translate(773.34,1459.40) rotate(-90) scale(0.7,1)" font-size="13.5">10&#x27;</text>
<text class="r" transform="translate(773.34,1541.00) rotate(-90) scale(0.7,1)" font-size="13.5">10&#x27;</text>
<text class="n" transform="translate(49.28,476.80) rotate(-90) scale(0.7385,1)" font-size="23.5">DRIVEWAY</text>
<text class="n" transform="translate(49.28,1088.00) rotate(-90) scale(0.7385,1)" font-size="23.5">DRIVEWAY</text></svg>
</body></html>
